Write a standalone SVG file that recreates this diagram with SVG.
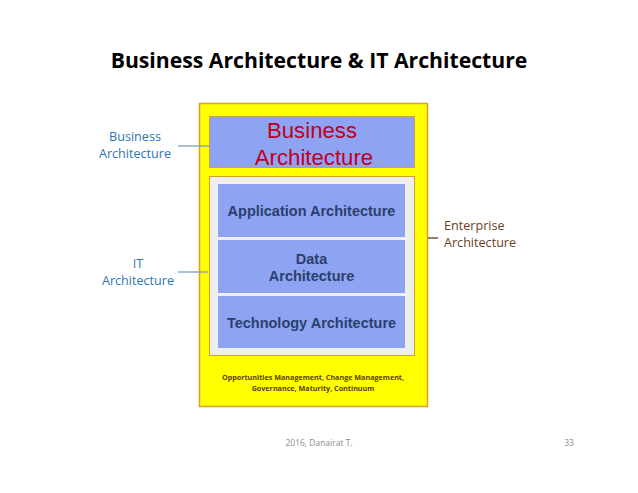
<svg xmlns="http://www.w3.org/2000/svg" width="638" height="493" viewBox="0 0 638 493">
<style>
.t{font-family:"Open Sans","Liberation Sans",sans-serif;}
.lbl{font-family:"Open Sans","Liberation Sans",sans-serif;font-size:12.6px;}
.blue{fill:#8ea4f2;stroke:none;}
.inner{font-family:"Liberation Sans",Arial,sans-serif;font-size:14.5px;font-weight:bold;fill:#2b3f6b;text-anchor:middle;}
.conn{stroke-width:1.3;fill:none;}
</style>
<rect width="638" height="493" fill="#ffffff"/>
<text class="t" x="319" y="68" font-size="21.2" font-weight="bold" text-anchor="middle" fill="#000">Business Architecture &amp; IT Architecture</text>

<g id="enterprise">
<rect x="199.5" y="103.5" width="228" height="303" fill="#ffff00" stroke="#d4a22a" stroke-width="1.5"/>
<text class="t" x="313" y="380" font-size="7.2" font-weight="bold" fill="#5c3d0a" text-anchor="middle">Opportunities Management, Change Management,</text>
<text class="t" x="313" y="391" font-size="7.2" font-weight="bold" fill="#5c3d0a" text-anchor="middle">Governance, Maturity, Continuum</text>
</g>

<g id="business">
<rect x="209.5" y="116.5" width="205" height="51" fill="#8ea4f2" stroke="#c9a040" stroke-width="1"/>
<text x="312" y="138" font-family="Liberation Sans,Arial,sans-serif" font-size="22.2" fill="#c0001a" text-anchor="middle">Business</text>
<text x="314" y="164.5" font-family="Liberation Sans,Arial,sans-serif" font-size="22.2" fill="#c0001a" text-anchor="middle">Architecture</text>
</g>

<g id="it">
<rect x="209.5" y="176.5" width="205" height="179" fill="#efefef" stroke="#d4a22a" stroke-width="1"/>
</g>

<g id="application">
<rect class="blue" x="218" y="184" width="187" height="53"/>
<text class="inner" x="311.5" y="216">Application Architecture</text>
</g>
<g id="data">
<rect class="blue" x="218" y="240" width="187" height="53"/>
<text class="inner" x="311.5" y="264">Data</text>
<text class="inner" x="311.5" y="281">Architecture</text>
</g>
<g id="technology">
<rect class="blue" x="218" y="296" width="187" height="52"/>
<text class="inner" x="311.5" y="328">Technology Architecture</text>
</g>

<g id="label-business">
<text class="lbl" x="135" y="141" fill="#2e75b6" text-anchor="middle">Business</text>
<text class="lbl" x="135" y="158" fill="#2e75b6" text-anchor="middle">Architecture</text>
</g>
<g id="label-it">
<text class="lbl" x="138" y="268" fill="#2e75b6" text-anchor="middle">IT</text>
<text class="lbl" x="138" y="285" fill="#2e75b6" text-anchor="middle">Architecture</text>
</g>
<g id="label-enterprise">
<text class="lbl" x="444" y="230" fill="#6b3e1b">Enterprise</text>
<text class="lbl" x="444" y="247" fill="#6b3e1b">Architecture</text>
</g>

<g id="connectors">
<line class="conn" x1="178" y1="146" x2="209" y2="146" stroke="#7d9cc8"/>
<line class="conn" x1="178" y1="272" x2="208" y2="272" stroke="#7d9cc8"/>
<line class="conn" x1="428" y1="238" x2="438" y2="238" stroke="#5c3d1a"/>
</g>

<text class="t" x="319" y="446" font-size="8.5" fill="#8c8c8c" text-anchor="middle">2016, Danairat T.</text>
<text class="t" x="569" y="446" font-size="8.5" fill="#8c8c8c" text-anchor="middle">33</text>
</svg>
